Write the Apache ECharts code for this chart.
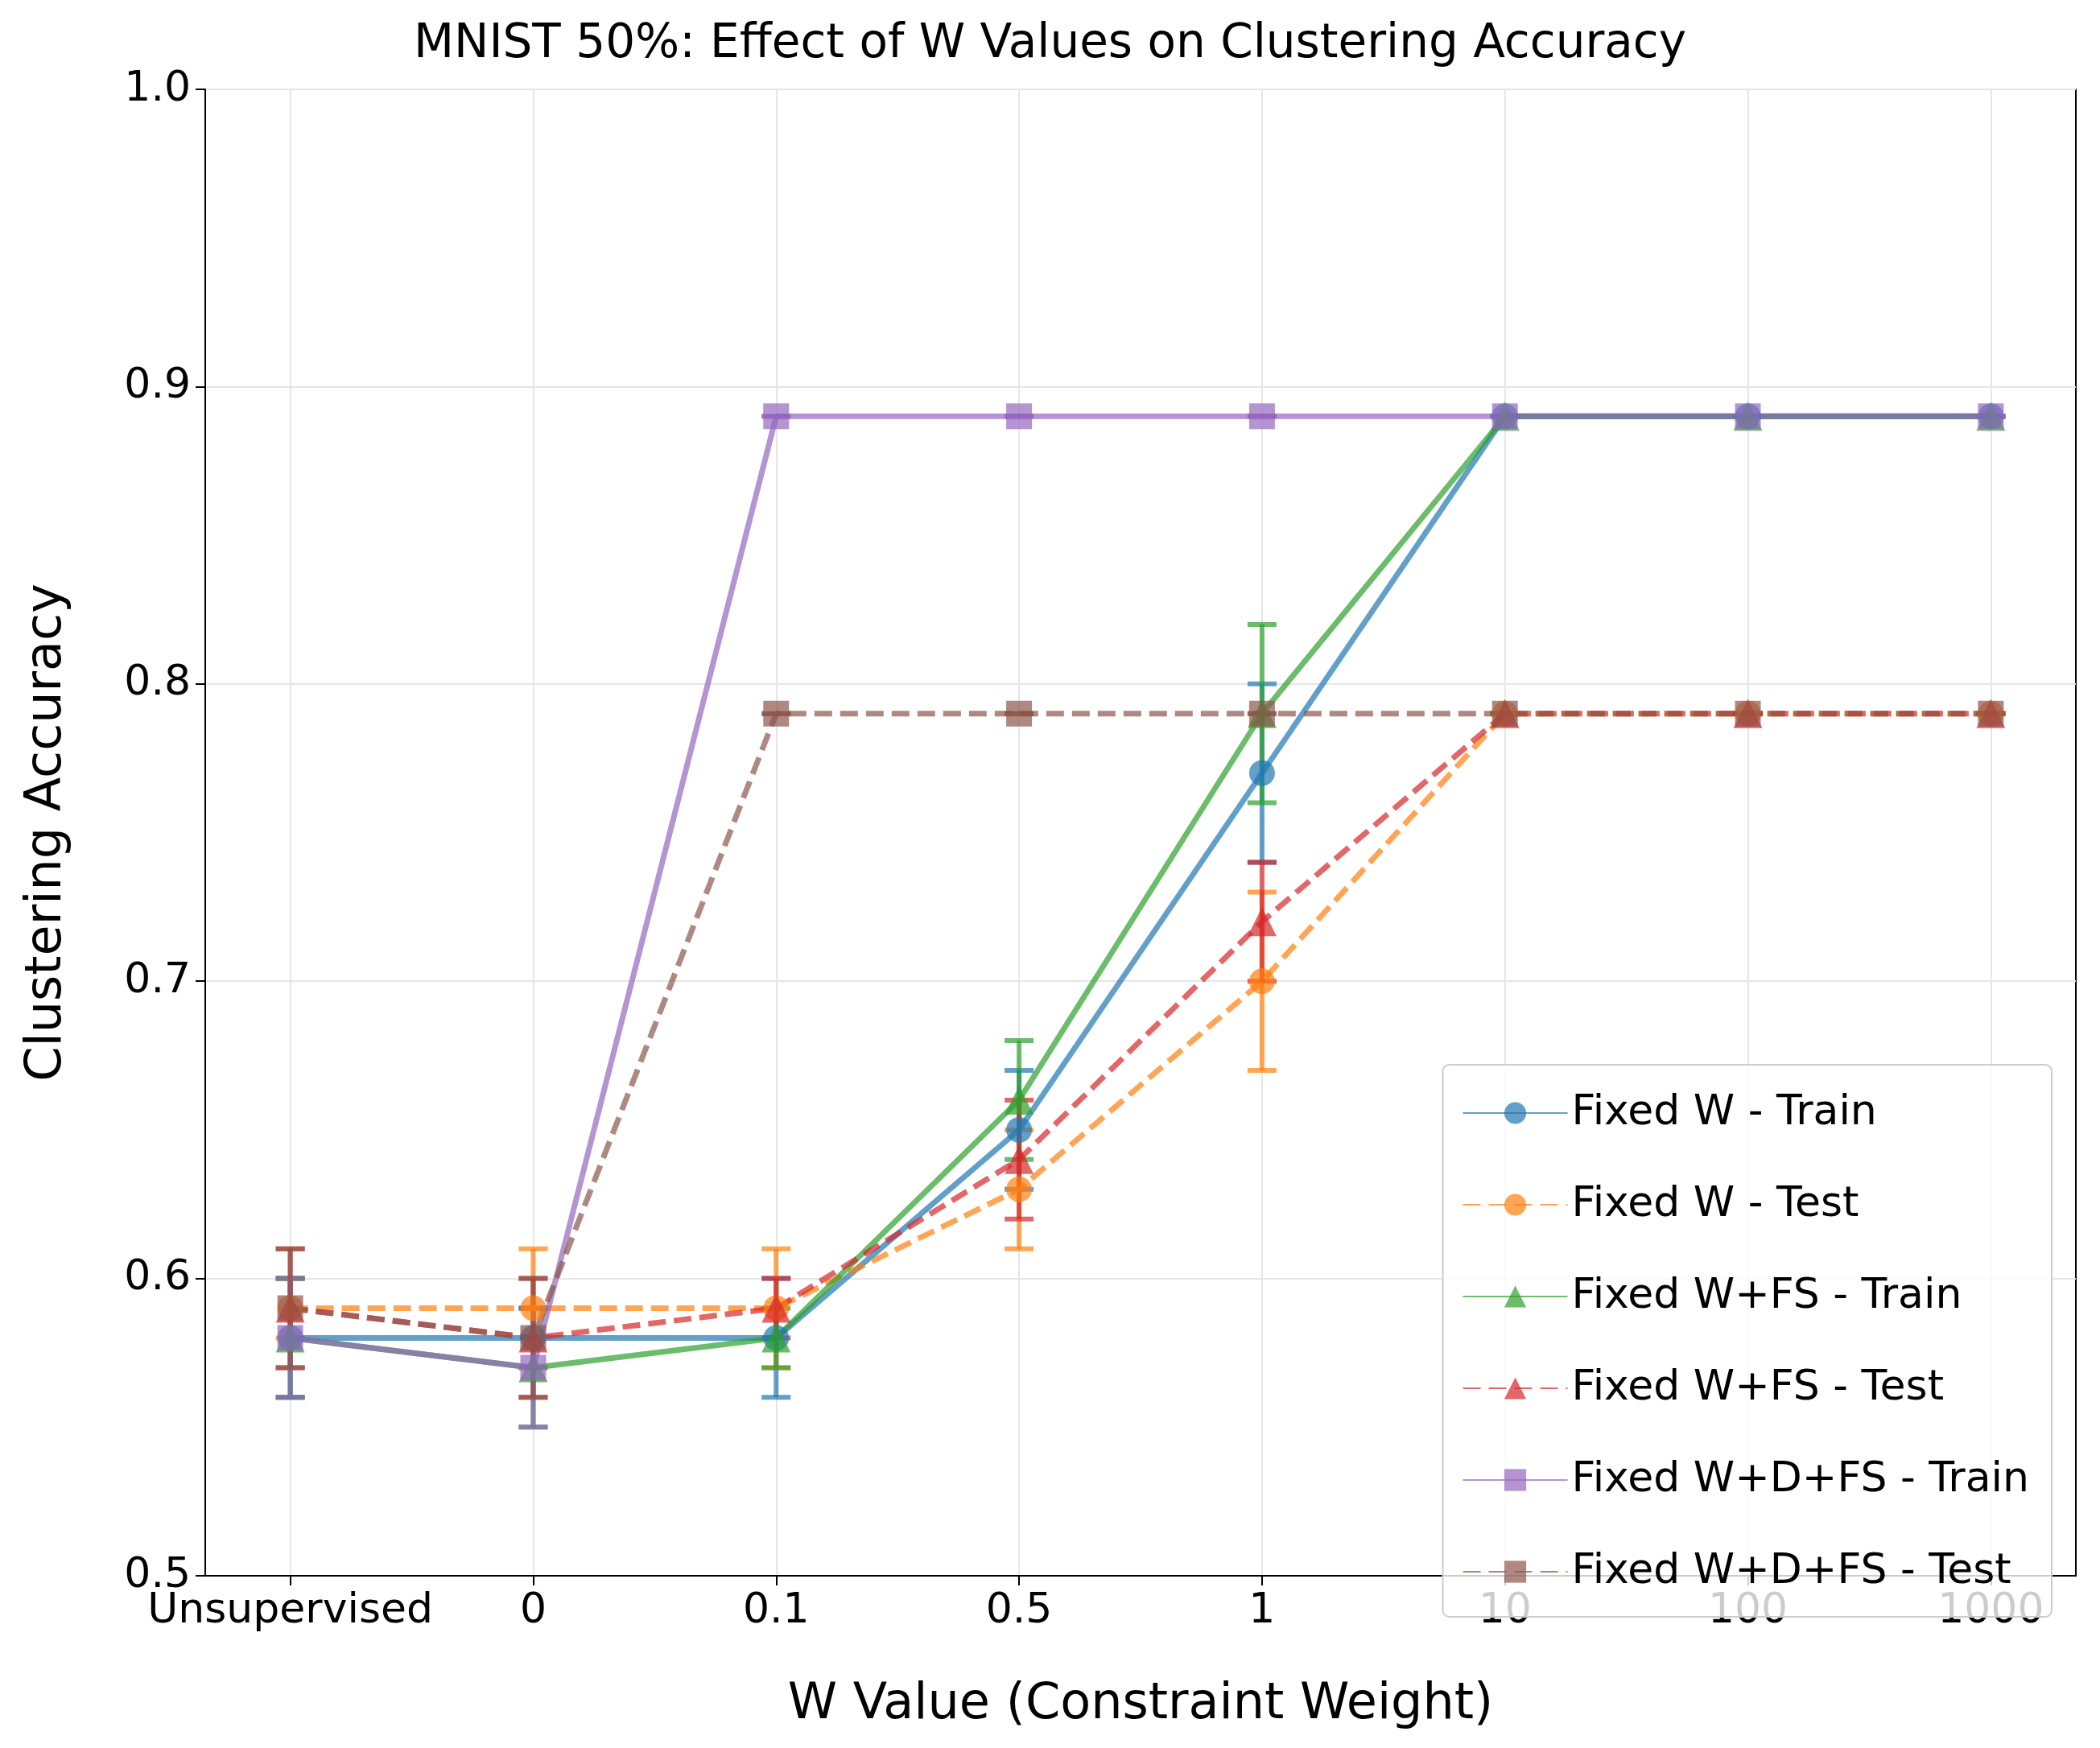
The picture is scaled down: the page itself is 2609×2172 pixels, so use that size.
<!DOCTYPE html>
<html><head><meta charset="utf-8">
<script src="https://cdn.jsdelivr.net/npm/echarts@6/dist/echarts.min.js"></script>
<style>html,body{margin:0;background:#fff}#chart{width:2609px;height:2172px}</style>
</head><body><div id="chart"></div>
<script>
var categories = ['Unsupervised', '0', '0.1', '0.5', '1', '10', '100', '1000'];
var seriesNames = ['Fixed W - Train', 'Fixed W - Test', 'Fixed W+FS - Train', 'Fixed W+FS - Test', 'Fixed W+D+FS - Train', 'Fixed W+D+FS - Test'];
var wTrain = [0.58, 0.58, 0.58, 0.65, 0.77, 0.89, 0.89, 0.89];
var wTrainErr = [0.02, 0.01, 0.02, 0.02, 0.03, 0, 0, 0];
var wTest = [0.59, 0.59, 0.59, 0.63, 0.70, 0.79, 0.79, 0.79];
var wTestErr = [0.01, 0.02, 0.02, 0.02, 0.03, 0, 0, 0];
var fsTrain = [0.58, 0.57, 0.58, 0.66, 0.79, 0.89, 0.89, 0.89];
var fsTrainErr = [0.02, 0.02, 0.01, 0.02, 0.03, 0, 0, 0];
var fsTest = [0.59, 0.58, 0.59, 0.64, 0.72, 0.79, 0.79, 0.79];
var fsTestErr = [0.02, 0.02, 0.01, 0.02, 0.02, 0, 0, 0];
var dfsTrain = [0.58, 0.57, 0.89, 0.89, 0.89, 0.89, 0.89, 0.89];
var dfsTrainErr = [0.02, 0.02, 0, 0, 0, 0, 0, 0];
var dfsTest = [0.59, 0.58, 0.79, 0.79, 0.79, 0.79, 0.79, 0.79];
var dfsTestErr = [0.02, 0.02, 0, 0, 0, 0, 0, 0];

var values = [wTrain, wTest, fsTrain, fsTest, dfsTrain, dfsTest];
var errs = [wTrainErr, wTestErr, fsTrainErr, fsTestErr, dfsTrainErr, dfsTestErr];
var colors = ['#1f77b4', '#ff7f0e', '#2ca02c', '#d62728', '#9467bd', '#8c564b'];
var symbols = ['circle', 'circle', 'triangle', 'triangle', 'rect', 'rect'];
var dashed = [false, true, false, true, false, true];
var font = 'DejaVu Sans';

var series = [];
values.forEach(function (v, s) {
	series.push({
		name: seriesNames[s] + ' err',
		type: 'custom',
		z: 3,
		data: v.map(function (y, i) { return [i, y - errs[s][i], y + errs[s][i]]; }),
		renderItem: function (params, api) {
			var lo = api.coord([api.value(0), api.value(1)]);
			var hi = api.coord([api.value(0), api.value(2)]);
			var w = 18;
			var st = {stroke: colors[s], lineWidth: 6, opacity: 0.7};
			return {type: 'group', children: [
				{type: 'line', shape: {x1: lo[0], y1: lo[1], x2: hi[0], y2: hi[1]}, style: st},
				{type: 'line', shape: {x1: lo[0] - w, y1: lo[1], x2: lo[0] + w, y2: lo[1]}, style: st},
				{type: 'line', shape: {x1: hi[0] - w, y1: hi[1], x2: hi[0] + w, y2: hi[1]}, style: st}
			]};
		}
	});
	series.push({
		name: seriesNames[s],
		type: 'line',
		z: 4,
		data: v.map(function (y, i) { return [i, y]; }),
		symbol: symbols[s],
		symbolSize: symbols[s] === 'triangle' ? 36 : 32,
		lineStyle: {color: colors[s], width: 7, type: dashed[s] ? [22, 10] : 'solid', opacity: 0.7},
		itemStyle: {color: colors[s], opacity: 0.7},
		emphasis: {disabled: true}
	});
});

var chart = echarts.init(document.getElementById('chart'));
chart.setOption({
	animation: false,
	color: colors,
	title: {
		text: 'MNIST 50%: Effect of W Values on Clustering Accuracy',
		left: 'center', top: 22,
		textStyle: {fontFamily: font, fontSize: 58, fontWeight: 'normal', color: '#000'}
	},
	grid: {left: 255, right: 30, top: 111, bottom: 214, show: true, borderColor: '#000', borderWidth: 2},
	legend: {
		data: seriesNames,
		orient: 'vertical',
		right: 60, top: 1323,
		itemWidth: 130, itemHeight: 34, itemGap: 62,
		padding: [34, 28, 30, 24],
		borderColor: '#ccc', borderWidth: 2, borderRadius: 8,
		backgroundColor: 'rgba(255,255,255,0.8)',
		textStyle: {fontFamily: font, fontSize: 52, color: '#000'}
	},
	xAxis: {
		type: 'value', min: -0.35, max: 7.35,
		name: 'W Value (Constraint Weight)', nameLocation: 'middle', nameGap: 130,
		nameTextStyle: {fontFamily: font, fontSize: 62, color: '#000'},
		axisLine: {onZero: false, lineStyle: {color: '#000', width: 2}},
		axisTick: {customValues: [0, 1, 2, 3, 4, 5, 6, 7], length: 12, lineStyle: {color: '#000', width: 2}},
		axisLabel: {customValues: [0, 1, 2, 3, 4, 5, 6, 7], margin: 18, fontFamily: font, fontSize: 52, color: '#000',
			formatter: function (val) { return categories[Math.round(val)]; }},
		splitLine: {show: true, lineStyle: {color: '#e6e6e6', width: 2}}
	},
	yAxis: {
		type: 'value', min: 0.5, max: 1.0, interval: 0.1,
		name: 'Clustering Accuracy', nameLocation: 'middle', nameGap: 165,
		nameTextStyle: {fontFamily: font, fontSize: 62, color: '#000'},
		axisLine: {show: true, onZero: false, lineStyle: {color: '#000', width: 2}},
		axisTick: {show: true, length: 12, lineStyle: {color: '#000', width: 2}},
		axisLabel: {margin: 18, fontFamily: font, fontSize: 52, color: '#000',
			formatter: function (v) { return v.toFixed(1); }},
		splitLine: {show: true, lineStyle: {color: '#e6e6e6', width: 2}}
	},
	series: series
});
</script>
</body></html>
